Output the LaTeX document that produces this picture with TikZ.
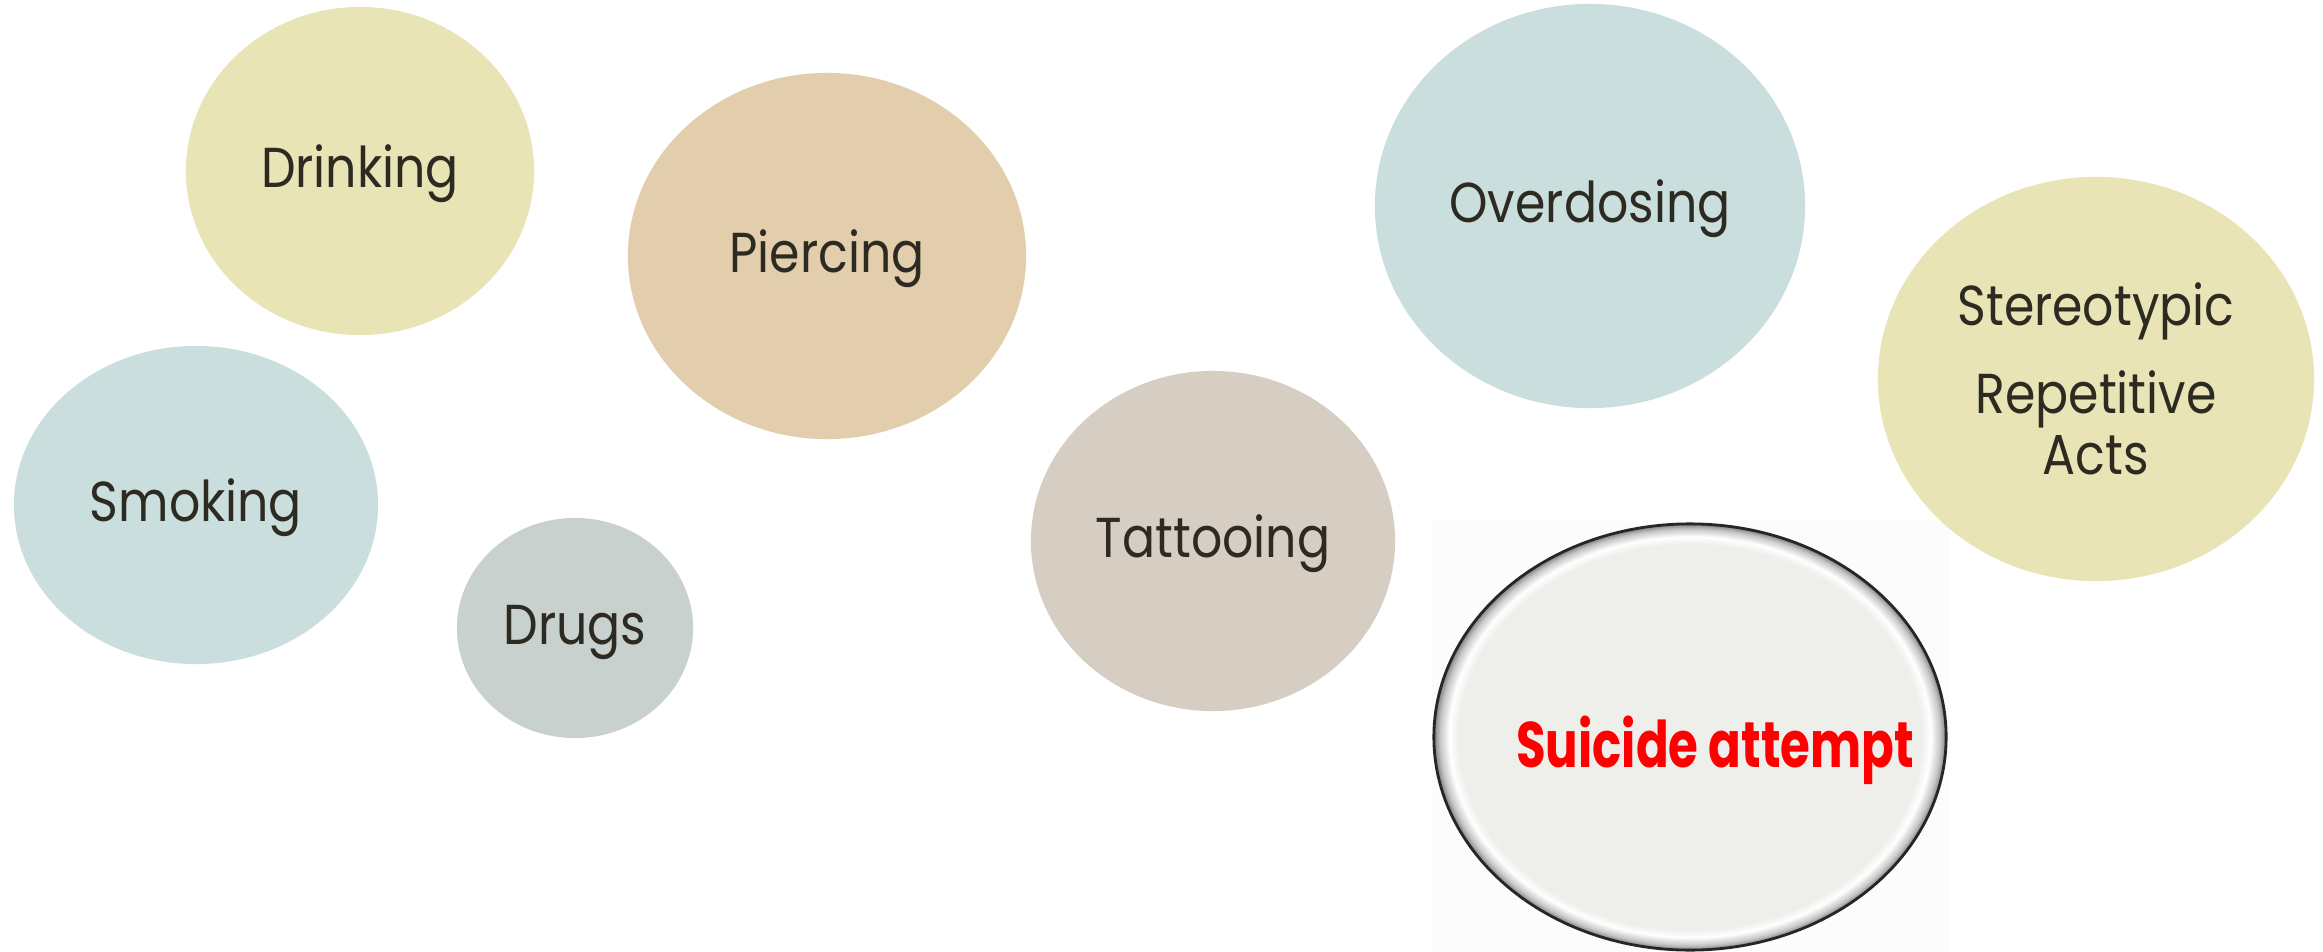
\documentclass[tikz,border=0pt]{standalone}
\usepackage{fontspec}
\setmainfont{Poppins}
\newfontfamily\bubblefont[FakeStretch=0.87]{Poppins}
\newfontfamily\alertfont[FakeStretch=0.75]{Poppins Bold}
\usetikzlibrary{shapes.geometric, positioning}
\definecolor{labeltext}{HTML}{2D2A22}
\definecolor{khaki}{HTML}{E8E4B6}
\definecolor{sand}{HTML}{E2CEAD}
\definecolor{mist}{HTML}{CADEDE}
\definecolor{slate}{HTML}{C9D1CF}
\definecolor{stone}{HTML}{D7CEC3}
\definecolor{pearl}{HTML}{EEEEEB}
\definecolor{alertred}{HTML}{FF0000}
\pgfdeclareradialshading{pearlbevel}{\pgfpoint{0bp}{0bp}}{%
  color(0bp)=(pearl); color(20bp)=(pearl); color(22.6bp)=(pearl);
  color(23.5bp)=(white); color(24.4bp)=(black!22); color(25bp)=(black!50);
  color(50bp)=(black!50)}

\begin{document}
\begin{tikzpicture}[
    x=0.01cm, y=-0.01cm,
    bubble/.style={
        ellipse, inner sep=0pt, text=labeltext,
        font=\bubblefont\fontsize{16pt}{17.4pt}\selectfont, align=center
    },
    word/.style={bubble, text height=13.5pt, text depth=4pt},
    panel/.style={rectangle, fill=black!1.2, inner sep=0pt},
    alert/.style={
        ellipse, inner sep=0pt, shading=pearlbevel, draw=black!85, line width=0.8pt
    }
]
    \useasboundingbox (0,0) rectangle (2323,951);

    %% backdrop of the highlighted bubble
    \node[panel, minimum width=5.17cm, minimum height=4.29cm] (backdrop) at (1691,736) {};

    %% left group
    \node[word, fill=khaki, minimum width=3.48cm, minimum height=3.28cm] (drinking) at (360,171) {Drinking};
    \node[word, fill=mist, minimum width=3.64cm, minimum height=3.18cm] (smoking) at (196,505) {Smoking};
    \node[word, fill=slate, minimum width=2.36cm, minimum height=2.20cm] (drugs) at (575,628) {Drugs};
    \node[word, fill=sand, minimum width=3.98cm, minimum height=3.66cm] (piercing) at (827,256) {Piercing};
    \node[word, fill=stone, minimum width=3.64cm, minimum height=3.40cm] (tattooing) at (1213,541) {Tattooing};

    %% right group
    \node[word, fill=mist, minimum width=4.30cm, minimum height=4.04cm] (overdosing) at (1590,206) {Overdosing};
    \node[bubble, fill=khaki, minimum width=4.36cm, minimum height=4.04cm] (stereotypic) at (2096,379)
        {Stereotypic\\[0.26cm] Repetitive\\ Acts};

    %% highlighted bubble
    \node[alert, minimum width=5.12cm, minimum height=4.26cm] (suicide) at (1690,737) {};
    \node[anchor=base, text=alertred, font=\alertfont\fontsize{18.3pt}{20pt}\selectfont] (suicidelabel)
        at ([xshift=0.25cm, yshift=-0.30cm]suicide.center) {Suicide attempt};
\end{tikzpicture}
\end{document}
